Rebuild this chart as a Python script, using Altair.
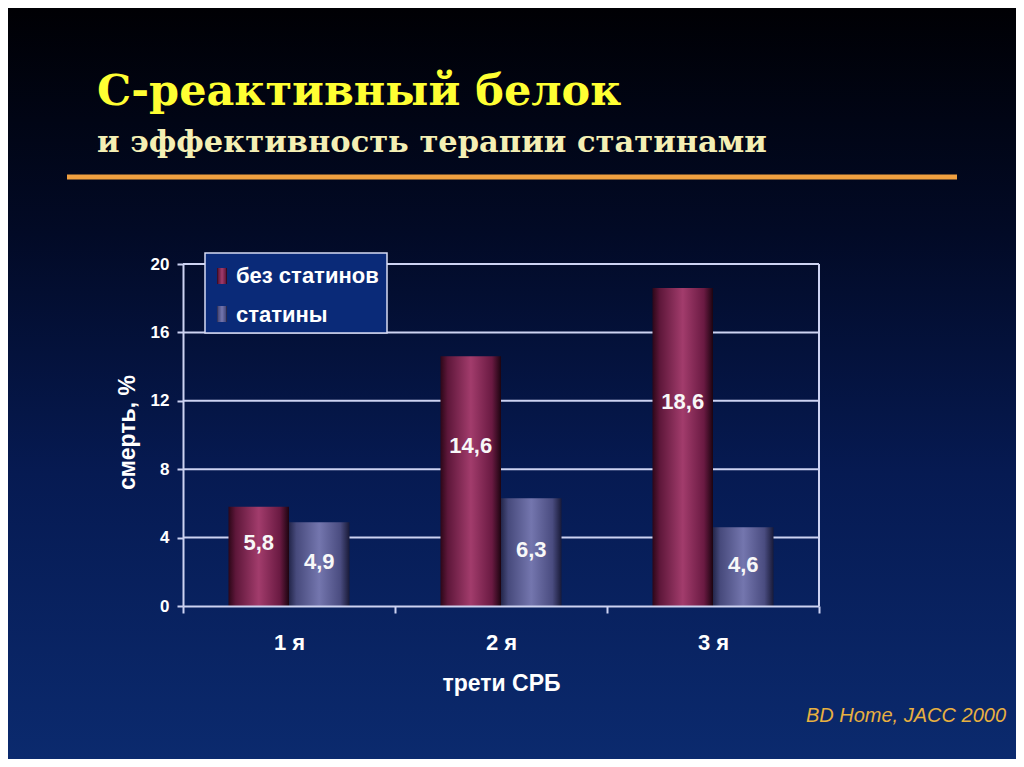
import altair as alt
import pandas as pd

# ---- data ----
categories = ["1 я", "2 я", "3 я"]
series_names = ["без статинов", "статины"]
no_statins = [5.8, 14.6, 18.6]
statins = [4.9, 6.3, 4.6]
y_ticks = [0, 4, 8, 12, 16, 20]
title_text = "С-реактивный белок"
subtitle_text = "и эффективность терапии статинами"
x_title = "трети СРБ"
y_title = "смерть, %"
source_text = "BD Home, JACC 2000"

rows = []
for c, a, b in zip(categories, no_statins, statins):
    rows.append({"cat": c, "series": series_names[0], "value": a})
    rows.append({"cat": c, "series": series_names[1], "value": b})
df = pd.DataFrame(rows)
grid_df = pd.DataFrame({"value": y_ticks[1:]})
one = pd.DataFrame({"k": [0]})

W, H = 636, 342
PAD = {"left": 175, "top": 256, "right": 197, "bottom": 153}

SANS = "Liberation Sans, Arial"
SERIF = "DejaVu Serif, Liberation Serif, serif"
LINE = "#cdd3f2"

def grad_h(stops):
    return alt.LinearGradient(
        gradient="linear",
        stops=[alt.GradientStop(color=c, offset=o) for o, c in stops],
        x1=0, x2=1, y1=0, y2=0,
    )

red_grad = grad_h([(0, "#2c0718"), (0.12, "#5e173a"), (0.5, "#a23c6c"),
                   (0.85, "#6a1a42"), (1, "#1c0410")])
blue_grad = grad_h([(0, "#23264a"), (0.12, "#474a7c"), (0.5, "#7476ae"),
                    (0.85, "#4a4c80"), (1, "#181a38")])
bg_grad = alt.LinearGradient(
    gradient="linear",
    stops=[alt.GradientStop(color="#000004", offset=0),
           alt.GradientStop(color="#020a26", offset=0.3),
           alt.GradientStop(color="#061a52", offset=0.62),
           alt.GradientStop(color="#0b2a6e", offset=1)],
    x1=0, x2=0, y1=0, y2=1,
)

yscale = alt.Scale(domain=[0, 20], nice=False, zero=True)
yaxis = alt.Axis(
    title=y_title, values=y_ticks, grid=False, zindex=1,
    domainColor=LINE, domainWidth=2, tickColor=LINE, tickWidth=2, tickSize=6,
    labelColor="#ffffff", labelFont=SANS, labelFontSize=17, labelFontWeight="bold",
    labelPadding=8,
    titleColor="#ffffff", titleFont=SANS, titleFontSize=23, titleFontWeight="bold",
    titleAngle=270, titleAlign="center", titleBaseline="middle",
    titleX=-56, titleY=168,
)
xscale = alt.Scale(paddingInner=0, paddingOuter=0)
xaxis = alt.Axis(
    title=x_title, tickBand="extent", grid=False, zindex=1, labelAngle=0,
    domainColor=LINE, domainWidth=2, tickColor=LINE, tickWidth=2, tickSize=7,
    labelColor="#ffffff", labelFont=SANS, labelFontSize=22, labelFontWeight="bold",
    labelPadding=19,
    titleColor="#ffffff", titleFont=SANS, titleFontSize=23, titleFontWeight="bold",
    titleBaseline="middle", titleY=77,
)

def X():
    return alt.X("cat:N", sort=categories, scale=xscale, axis=xaxis)

def XO():
    return alt.XOffset("series:N", sort=series_names,
                       scale=alt.Scale(paddingOuter=0.752, paddingInner=0))

def Y(field):
    return alt.Y(field, scale=yscale, axis=yaxis)

base = alt.Chart(df)

background = alt.Chart(one).mark_rect(fill=bg_grad, clip=False).encode(
    x=alt.value(-PAD["left"]), x2=alt.value(W + PAD["right"]),
    y=alt.value(-PAD["top"]), y2=alt.value(H + PAD["bottom"]),
)

grid = alt.Chart(grid_df).mark_rule(color=LINE, strokeWidth=2).encode(
    y=Y("value:Q")
)

right_border = alt.Chart(one).mark_rule(color=LINE, strokeWidth=2).encode(
    x=alt.value(W), y=alt.value(0), y2=alt.value(H)
)

bars_red = base.transform_filter(
    alt.datum.series == series_names[0]
).mark_bar(fill=red_grad, strokeWidth=0).encode(
    x=X(), xOffset=XO(), y=Y("value:Q")
)
bars_blue = base.transform_filter(
    alt.datum.series == series_names[1]
).mark_bar(fill=blue_grad, strokeWidth=0).encode(
    x=X(), xOffset=XO(), y=Y("value:Q")
)

labels = base.transform_calculate(
    lbl="replace(format(datum.value, '.1f'), '.', ',')",
    ly="datum.value * (datum.series == '" + series_names[0] + "' ? 0.64 : 0.52)",
).mark_text(
    font=SANS, fontSize=22, fontWeight="bold", color="#f8f8f8", baseline="middle"
).encode(
    x=X(), xOffset=XO(), y=Y("ly:Q"), text="lbl:N"
)

# legend box
legend_box = alt.Chart(one).mark_rect(
    fill="#0a2a78", stroke="#d8dcf4", strokeWidth=1.5, clip=False
).encode(
    x=alt.value(22), x2=alt.value(204), y=alt.value(-11), y2=alt.value(69)
)
legend_layers = [legend_box]
for i, (name, g) in enumerate(zip(series_names, [red_grad, blue_grad])):
    d = pd.DataFrame({"series": [name]})
    legend_layers.append(
        alt.Chart(d).mark_rect(fill=g, clip=False).encode(
            x=alt.value(34), x2=alt.value(44),
            y=alt.value(4 + 38 * i), y2=alt.value(20 + 38 * i),
        )
    )
    legend_layers.append(
        alt.Chart(d).mark_text(
            font=SANS, fontSize=22, fontWeight="bold", color="#ffffff",
            align="left", baseline="middle", clip=False,
        ).encode(x=alt.value(53), y=alt.value(12 + 39 * i), text="series:N")
    )

# title block
title = alt.Chart(pd.DataFrame({"t": [title_text]})).mark_text(
    font=SERIF, fontSize=43, fontWeight="bold", color="#ffff33",
    align="left", baseline="alphabetic",
).encode(x=alt.value(-86), y=alt.value(-159), text="t:N")
subtitle = alt.Chart(pd.DataFrame({"t": [subtitle_text]})).mark_text(
    font=SERIF, fontSize=30.5, fontWeight="bold", color="#f4efb4",
    align="left", baseline="alphabetic",
).encode(x=alt.value(-86), y=alt.value(-112), text="t:N")
title_rule = alt.Chart(one).mark_rule(color="#f0a040", strokeWidth=5).encode(
    x=alt.value(-116), x2=alt.value(774), y=alt.value(-87)
)
source = alt.Chart(pd.DataFrame({"t": [source_text]})).mark_text(
    font="Liberation Sans, Arial", fontSize=20, fontStyle="italic", color="#e8b040",
    align="right", baseline="middle",
).encode(x=alt.value(823), y=alt.value(452), text="t:N")

chart = alt.layer(
    background, grid, right_border, bars_red, bars_blue, labels,
    *legend_layers, title, subtitle, title_rule, source,
).properties(
    width=W, height=H,
    autosize=alt.AutoSizeParams(type="none"),
    padding=PAD,
    background="#000010",
).configure_view(stroke=None)

chart.save("out.html", embed_options={"renderer": "svg", "actions": False})
